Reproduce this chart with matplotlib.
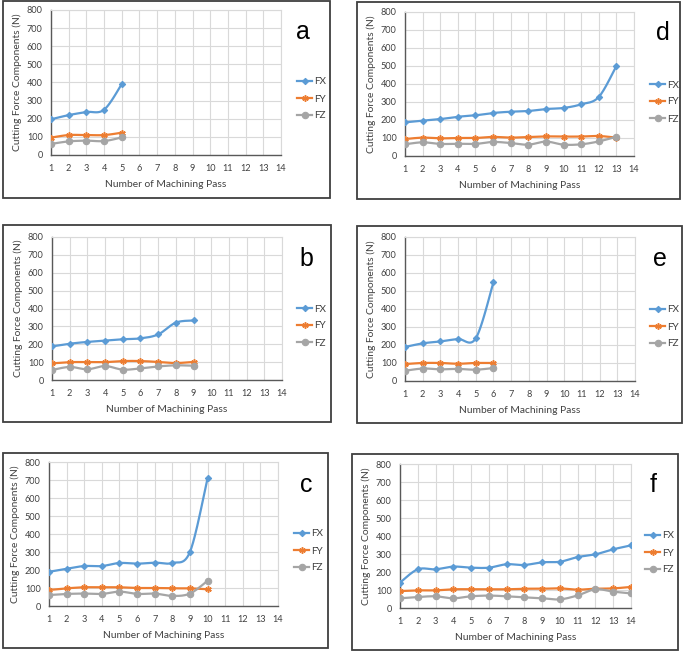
import numpy as np
import matplotlib
matplotlib.use("Agg")
import matplotlib.pyplot as plt
from matplotlib.patches import Rectangle
from matplotlib.lines import Line2D

# ---------------- data ----------------
series_names = ["FX", "FY", "FZ"]
x_ticks = list(range(1, 15))
y_ticks = list(range(0, 801, 100))

a_fx = [197, 220, 237, 250, 391]
a_fy = [96, 110, 110, 110, 123]
a_fz = [61, 75, 79, 77, 97]

d_fx = [187, 196, 205, 218, 226, 239, 246, 250, 261, 267, 287, 328, 500]
d_fy = [94, 102, 98, 100, 100, 106, 102, 106, 109, 108, 108, 111, 102]
d_fz = [65, 76, 67, 68, 67, 78, 72, 63, 80, 63, 65, 81, 107]

b_fx = [188, 203, 213, 220, 228, 233, 255, 321, 333]
b_fy = [93, 100, 100, 100, 106, 106, 101, 95, 101]
b_fz = [56, 73, 60, 78, 58, 65, 76, 82, 80]

e_fx = [189, 209, 220, 233, 237, 548]
e_fy = [94, 100, 100, 96, 100, 100]
e_fz = [57, 69, 65, 67, 63, 72]

c_fx = [190, 207, 222, 222, 239, 235, 241, 239, 300, 709]
c_fy = [89, 98, 104, 104, 104, 100, 100, 98, 98, 93]
c_fz = [61, 67, 69, 67, 80, 67, 69, 56, 69, 140]

f_fx = [141, 215, 215, 230, 224, 224, 243, 239, 254, 257, 283, 298, 326, 348]
f_fy = [94, 98, 98, 104, 104, 104, 104, 107, 107, 109, 102, 107, 109, 117]
f_fz = [54, 61, 65, 54, 65, 69, 65, 59, 54, 48, 70, 104, 91, 81]

panel_letters = ["a", "d", "b", "e", "c", "f"]
panel_data = [
    (a_fx, a_fy, a_fz),
    (d_fx, d_fy, d_fz),
    (b_fx, b_fy, b_fz),
    (e_fx, e_fy, e_fz),
    (c_fx, c_fy, c_fz),
    (f_fx, f_fy, f_fz),
]

# ---------------- layout (pixels) ----------------
W, H = 685, 652
# plot area: left, right, top, bottom
plot_px = [(51, 281, 10, 155), (405, 634, 12, 156),
           (52, 282, 237, 380), (405, 635, 237, 381),
           (49, 278, 462, 606), (400, 631, 464, 608)]
# border: left, right, top, bottom
border_px = [(3, 330, 1, 198), (357, 680, 2, 199),
             (3, 331, 225, 422), (357, 682, 226, 423),
             (3, 328, 453, 648), (352, 678, 454, 650)]
letter_px = [(303, 32), (663, 33), (306, 259), (660, 259), (306, 485), (653, 485)]
legend_px = [(297, 99), (650, 102), (297, 326), (650, 327), (294, 551), (645, 553)]

colors = ["#5B9BD5", "#ED7D31", "#A5A5A5"]
markers = ["D", (6, 2, 0), "o"]
msizes = [3.2, 4.6, 4.6]
mew = [0.8, 1.1, 0.8]
text_col = "#404040"
font = ["Lato", "DejaVu Sans"]
plt.rcParams["font.family"] = font


def smooth(xs, ys, n=24):
    x = np.asarray(xs, float)
    y = np.asarray(ys, float)
    m = len(x)
    if m < 3:
        return x, y
    P = np.column_stack([x, y])
    Pp = np.vstack([P[0], P, P[-1]])
    out = [P[:1]]
    t = np.linspace(0, 1, n + 1)[1:, None]
    for i in range(m - 1):
        p0, p1 = Pp[i + 1], Pp[i + 2]
        c1 = p0 + (Pp[i + 2] - Pp[i]) / 6.0
        c2 = p1 - (Pp[i + 3] - Pp[i + 1]) / 6.0
        seg = ((1 - t) ** 3) * p0 + 3 * ((1 - t) ** 2) * t * c1 + 3 * (1 - t) * t ** 2 * c2 + t ** 3 * p1
        out.append(seg)
    S = np.vstack(out)
    return S[:, 0], S[:, 1]


fig = plt.figure(figsize=(W / 100, H / 100), dpi=100)

for k in range(6):
    l, r, t, b = plot_px[k]
    ax = fig.add_axes([l / W, 1 - b / H, (r - l) / W, (b - t) / H])
    data = panel_data[k]
    for s in range(3):
        vals = data[s]
        xs = list(range(1, len(vals) + 1))
        sx, sy = smooth(xs, vals)
        ax.plot(sx, sy, color=colors[s], lw=1.6, solid_capstyle="round", zorder=3)
        ax.plot(xs, vals, ls="none", marker=markers[s], ms=msizes[s],
                color=colors[s], mec=colors[s], mew=mew[s], zorder=4)
    ax.set_xlim(1, 14)
    ax.set_ylim(0, 800)
    ax.set_xticks(x_ticks)
    ax.set_yticks(y_ticks)
    ax.grid(True, color="#D9D9D9", lw=0.8)
    ax.set_axisbelow(True)
    for sp in ["top", "right"]:
        ax.spines[sp].set_color("#D9D9D9")
        ax.spines[sp].set_linewidth(0.8)
    for sp in ["left", "bottom"]:
        ax.spines[sp].set_color("#595959")
        ax.spines[sp].set_linewidth(1.0)
    ax.tick_params(axis="both", length=0, labelsize=6.6, labelcolor=text_col)
    ax.tick_params(axis="x", pad=6.5)
    ax.tick_params(axis="y", pad=6.0)
    ax.set_xlabel("Number of Machining Pass", fontsize=7.4, color=text_col, labelpad=5)
    ax.set_ylabel("Cutting Force Components (N)", fontsize=7.4, color=text_col, labelpad=3.5)

    handles = [Line2D([0], [0], color=colors[s], lw=1.6, marker=markers[s],
                      ms=msizes[s], mew=mew[s]) for s in range(3)]
    lx, ly = legend_px[k]
    ax.legend(handles, series_names, loc="center left",
              bbox_to_anchor=(lx / W, 1 - ly / H), bbox_transform=fig.transFigure,
              frameon=False, fontsize=7.2, handlelength=1.5, handletextpad=0.25,
              labelspacing=0.8, borderpad=0, borderaxespad=0,
              labelcolor=text_col)

    bl, br, bt, bb = border_px[k]
    fig.add_artist(Rectangle((bl / W, 1 - bb / H), (br - bl) / W, (bb - bt) / H,
                             transform=fig.transFigure, fill=False,
                             edgecolor="#3F3F3F", lw=1.3))
    px, py = letter_px[k]
    fig.text(px / W, 1 - py / H, panel_letters[k], fontsize=18, color="black",
             ha="center", va="center", family=["Liberation Sans", "DejaVu Sans"])

fig.savefig("out.png", dpi=100, facecolor="white")
